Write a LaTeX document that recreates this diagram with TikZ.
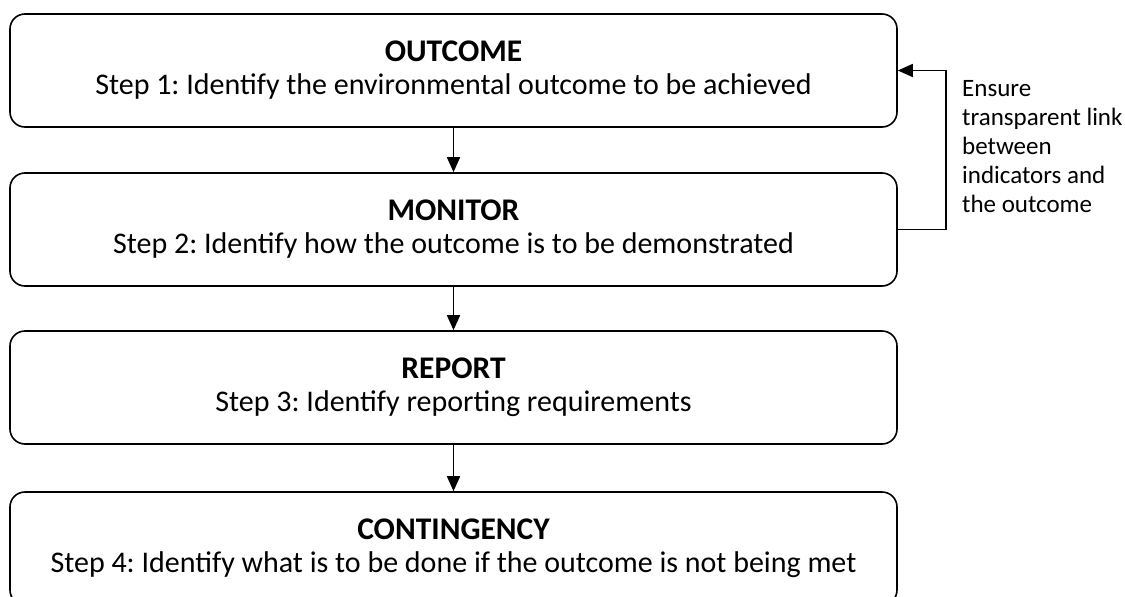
\documentclass[tikz,border=0pt]{standalone}
\usepackage{fontspec}
\setmainfont{Carlito}
\frenchspacing
\usetikzlibrary{arrows.meta}
\newcommand{\stagehead}[1]{{\fontsize{31.5}{33}\selectfont\bfseries #1}}
\tikzset{stagebox/.style={draw, line width=1.6pt, rounded corners=15pt, minimum width=887pt, minimum height=113pt, inner sep=0pt, align=center, font=\fontsize{30}{33}\selectfont}}
\begin{document}
\begin{tikzpicture}[>={Triangle[length=15pt,width=13pt]}, x=1pt, y=-1pt]
\useasboundingbox (0,0) rectangle (1125,597);
\node[stagebox] (outcome) at (453.5,70.5) {\stagehead{OUTCOME}\\Step 1: Identify the environmental outcome to be achieved};
\node[stagebox] (monitor) at (453.5,229.5) {\stagehead{MONITOR}\\Step 2: Identify how the outcome is to be demonstrated};
\node[stagebox] (report) at (453.5,387.5) {\stagehead{REPORT}\\Step 3: Identify reporting requirements};
\node[stagebox] (contingency) at (453.5,548.5) {\stagehead{CONTINGENCY}\\Step 4: Identify what is to be done if the outcome is not being met};
\draw[line width=1.6pt, ->](outcome)--(monitor);
\draw[line width=1.6pt, ->](monitor)--(report);
\draw[line width=1.6pt, ->](report)--(contingency);
\coordinate (loop) at (946,0);
\draw[line width=1.6pt, ->](monitor.east)-|(loop|-monitor.east)|-(outcome.east);
\node[anchor=north west, align=left, inner sep=0pt, font=\fontsize{25}{29}\selectfont] (note) at (962,80) {Ensure\\transparent link\\between\\indicators and\\the outcome};
\end{tikzpicture}
\end{document}
